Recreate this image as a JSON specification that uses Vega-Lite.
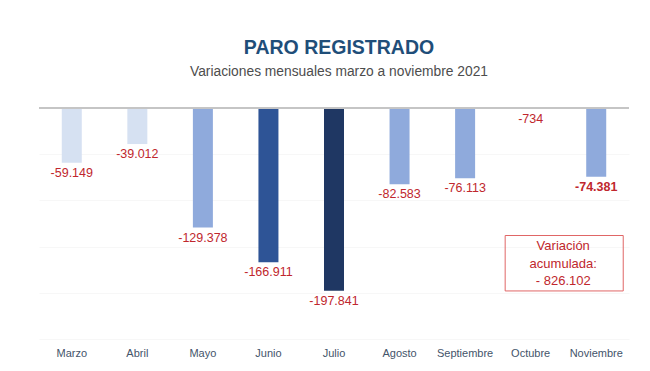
{
  "$schema": "https://vega.github.io/schema/vega-lite/v6.json",
  "autosize": "none",
  "width": 590,
  "height": 231,
  "padding": {"left": 39, "top": 108, "right": 21, "bottom": 32},
  "background": "white",
  "config": {
    "view": {"stroke": null},
    "font": "Liberation Sans",
    "locale": {"number": {"decimal": ",", "thousands": ".", "grouping": [3], "currency": ["", " €"], "minus": "-"}}
  },
  "title": {
    "text": "PARO REGISTRADO",
    "subtitle": "Variaciones mensuales marzo a noviembre 2021",
    "anchor": "middle",
    "dx": 5,
    "offset": 27,
    "font": "Liberation Sans",
    "fontSize": 19.5,
    "fontWeight": "bold",
    "color": "#1f4e79",
    "subtitleFont": "Liberation Sans",
    "subtitleFontSize": 13.8,
    "subtitleColor": "#4d4d4d",
    "subtitlePadding": 7
  },
  "datasets": {
    "meses": [
      {"mes": "Marzo", "valor": -59149},
      {"mes": "Abril", "valor": -39012},
      {"mes": "Mayo", "valor": -129378},
      {"mes": "Junio", "valor": -166911},
      {"mes": "Julio", "valor": -197841},
      {"mes": "Agosto", "valor": -82583},
      {"mes": "Septiembre", "valor": -76113},
      {"mes": "Octubre", "valor": -734},
      {"mes": "Noviembre", "valor": -74381}
    ],
    "nota": [{"texto": "Variación acumulada"}]
  },
  "data": {"name": "meses"},
  "layer": [
    {
      "mark": {"type": "bar", "width": 20},
      "encoding": {
        "x": {
          "field": "mes",
          "type": "nominal",
          "sort": null,
          "scale": {"paddingInner": 0, "paddingOuter": 0},
          "axis": {
            "title": null,
            "domain": false,
            "ticks": false,
            "labelAngle": 0,
            "labelFontSize": 11,
            "labelColor": "#44546a",
            "labelPadding": 8
          }
        },
        "y": {
          "field": "valor",
          "type": "quantitative",
          "scale": {"domain": [-250000, 0], "nice": false},
          "axis": {
            "title": null,
            "labels": false,
            "ticks": false,
            "domain": false,
            "grid": true,
            "gridColor": "#f7f7f7",
            "values": [-50000, -100000, -150000, -200000, -250000]
          }
        },
        "color": {
          "field": "mes",
          "type": "nominal",
          "legend": null,
          "scale": {
            "domain": ["Marzo", "Abril", "Mayo", "Junio", "Julio", "Agosto", "Septiembre", "Octubre", "Noviembre"],
            "range": ["#d6e1f2", "#d6e1f2", "#8faadc", "#2e5496", "#1f3763", "#8faadc", "#8faadc", "#a6a285", "#8faadc"]
          }
        }
      }
    },
    {
      "mark": {"type": "rule", "color": "#c4c4c4", "strokeWidth": 1.5},
      "encoding": {"y": {"datum": 0}}
    },
    {
      "transform": [{"filter": "datum.mes !== 'Noviembre'"}],
      "mark": {"type": "text", "baseline": "top", "dy": 4, "fontSize": 12.5, "color": "#c0272d"},
      "encoding": {
        "x": {"field": "mes", "type": "nominal", "sort": null},
        "y": {"field": "valor", "type": "quantitative"},
        "text": {"field": "valor", "type": "quantitative", "format": ",d"}
      }
    },
    {
      "transform": [{"filter": "datum.mes === 'Noviembre'"}],
      "mark": {"type": "text", "baseline": "top", "dy": 4, "fontSize": 12.5, "fontWeight": "bold", "color": "#c0272d"},
      "encoding": {
        "x": {"field": "mes", "type": "nominal", "sort": null},
        "y": {"field": "valor", "type": "quantitative"},
        "text": {"field": "valor", "type": "quantitative", "format": ",d"}
      }
    },
    {
      "data": {"name": "nota"},
      "mark": {"type": "rect", "filled": false, "stroke": "#e06666", "strokeWidth": 1, "xOffset": -25.5, "x2Offset": 27},
      "encoding": {
        "x": {"datum": "Octubre", "type": "nominal"},
        "x2": {"datum": "Noviembre"},
        "y": {"datum": -138000, "type": "quantitative"},
        "y2": {"datum": -198000}
      }
    },
    {
      "data": {"name": "nota"},
      "mark": {"type": "text", "text": ["Variación", "acumulada:", "- 826.102"], "fontSize": 13, "lineHeight": 17.5, "color": "#c0272d", "baseline": "middle", "align": "center", "dx": -33},
      "encoding": {
        "x": {"datum": "Noviembre", "type": "nominal"},
        "y": {"datum": -149500, "type": "quantitative"}
      }
    }
  ]
}
